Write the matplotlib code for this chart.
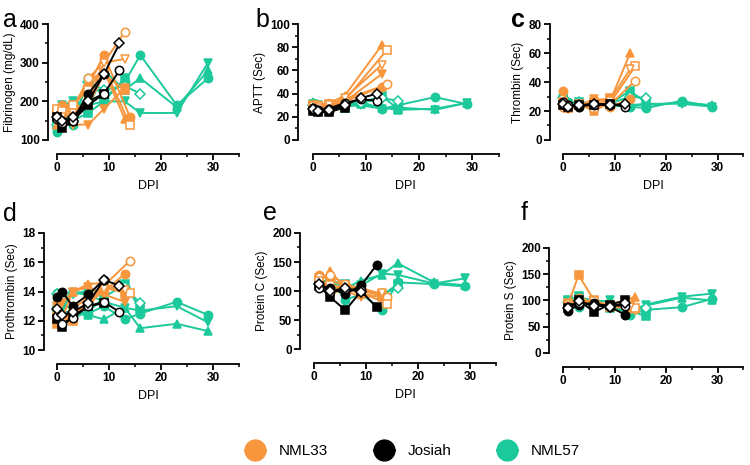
import matplotlib
matplotlib.use('Agg')
import matplotlib.pyplot as plt
from matplotlib.lines import Line2D
from matplotlib.ticker import MultipleLocator

plt.rcParams['font.family'] = ['Liberation Sans', 'DejaVu Sans']

# ---------------- data ----------------
GROUPS = ['NML33', 'Josiah', 'NML57']
COLORS = {'NML33': '#F7963C', 'Josiah': '#000000', 'NML57': '#1CC99B'}

DAYS_NML33 = [0, 1, 3, 6, 9, 13, 14]
DAYS_JOSIAH = [0, 1, 3, 6, 9, 12]
DAYS_NML57 = [0, 1, 3, 6, 9, 13, 16, 23, 29]

N = None
# Fibrinogen (mg/dL)
FIB_NML33 = [[180, 190, 190, 240, 320, N, 160],
             [170, 180, 185, 190, 270, 230, N],
             [140, 150, 180, 250, 280, 155, N],
             [150, 140, 140, 140, 180, 235, N],
             [160, 170, 180, 260, 300, 380, N],
             [180, 175, 190, 230, 290, N, 140],
             [150, 160, 170, 200, 300, 310, N]]
FIB_JOSIAH = [[160, 150, 150, 220, 270, N],
              [160, 130, 150, 190, 220, N],
              [155, 145, 150, 200, 220, 280],
              [160, 150, 160, 200, 270, 350]]
FIB_NML57 = [[120, 150, 140, 260, 210, 250, 320, 190, 260],
             [140, 160, 150, 170, 200, 260, N, N, N],
             [140, 170, 200, 180, 280, 230, 260, 185, 280],
             [150, 190, 200, 190, 200, 200, 170, 170, 300],
             [140, 160, 150, 250, 230, 240, 220, N, N]]

# APTT (Sec)
APTT_NML33 = [[30, 28, 27, 33, N, 46, N],
              [28, 29, 30, 32, N, N, N],
              [31, 30, 32, 38, N, 82, N],
              [27, 27, 28, 33, N, 57, N],
              [28, 30, 31, 35, N, N, 48],
              [30, 29, 31, 34, N, N, 78],
              [29, 28, 30, 36, N, 65, N]]
APTT_JOSIAH = [[26, 25, 25, 30, N, N],
               [25, 24, 24, 28, N, N],
               [28, 26, 27, 32, 35, 34],
               [27, 25, 26, 30, 36, 40]]
APTT_NML57 = [[32, 30, 28, 30, 33, 27, 30, 37, 31],
              [30, 29, 27, 28, 32, 38, 27, N, N],
              [33, 31, 29, 30, 31, 28, 26, 27, 32],
              [31, 30, 28, 29, 30, 27, 28, 26, 32],
              [30, 29, 28, 30, 32, 36, 34, N, N]]

# Thrombin (Sec)
THR_NML33 = [[34, 24, 23, 24, 23, 28, N],
             [26, 22, 24, 26, 29, N, N],
             [25, 23, 25, 20, 26, 60, N],
             [24, 23, 24, 28, 28, N, N],
             [23, 22, 24, 23, 24, N, 41],
             [24, 23, 25, 22, 25, N, 51],
             [25, 22, 23, 25, 27, 49, N]]
THR_JOSIAH = [[25, 24, 23, 25, 24, N],
              [24, 23, 24, 24, 25, N],
              [26, 24, 24, 24, 25, 23],
              [25, 23, 24, 25, 24, 25]]
THR_NML57 = [[30, 26, 25, 24, 24, 23, 22, 27, 23],
             [28, 25, 26, 24, 25, 34, 26, N, N],
             [27, 25, 24, 23, 24, 24, 24, 26, 24],
             [26, 24, 25, 24, 23, 24, 25, 25, 23],
             [29, 25, 26, 24, 25, 30, 29, N, N]]

# Prothrombin (Sec)
PT_NML33 = [[13.2, 12.0, 12.2, 13.5, 14.0, 15.2, N],
            [11.8, 11.9, 12.0, 13.4, 14.3, 13.9, N],
            [13.0, 12.2, 14.0, 14.5, 14.6, N, N],
            [12.0, 13.2, 14.0, 14.3, 13.8, 13.3, N],
            [12.5, 12.2, 12.8, 13.6, 14.4, N, 16.1],
            [12.2, 12.0, 12.4, 13.2, 14.5, N, 13.9],
            [12.3, 12.1, 12.6, 13.0, 14.2, 14.1, N]]
PT_JOSIAH = [[13.6, 14.0, 13.0, 13.8, 14.8, N],
             [12.1, 11.6, 12.3, 13.0, 13.2, N],
             [12.3, 11.8, 12.2, 13.0, 13.3, 12.6],
             [12.8, 12.4, 12.6, 13.2, 14.8, 14.4]]
PT_NML57 = [[13.9, 13.4, 12.6, 12.5, 13.0, 12.1, 12.5, 13.3, 12.4],
            [12.7, 12.0, 12.2, 12.6, 13.6, 14.5, 12.8, N, N],
            [13.3, 12.6, 12.6, 12.4, 12.1, 12.9, 11.5, 11.8, 11.3],
            [13.0, 12.8, 13.9, 13.8, 13.3, 12.9, 12.7, 13.0, 11.9],
            [13.8, 13.5, 13.9, 14.0, 14.2, 14.3, 13.2, N, N]]

# Protein C (Sec)
PC_NML33 = [[N, 128, 120, 108, 100, 93, N],
            [N, 122, 100, 110, 105, 95, N],
            [N, 115, 135, 105, 95, 90, N],
            [N, 103, 112, 100, 90, 92, N],
            [N, 125, 128, 112, 103, N, 90],
            [N, 118, 110, 106, 98, N, 78],
            [N, 108, 95, 104, 100, 96, N]]
PC_JOSIAH = [[N, 110, 105, 95, 110, 145],
             [N, 108, 90, 67, 100, 72],
             [N, 105, 98, 103, 102, N],
             [N, 112, 100, 105, 98, N]]
PC_NML57 = [[N, 115, 120, 85, 95, 68, 115, 112, 108],
            [N, 110, 118, 112, 105, 92, 112, N, N],
            [N, 120, 110, 105, 118, 128, 148, 115, 110],
            [N, 118, 105, 100, 110, 130, 128, 113, 122],
            [N, 112, 115, 108, 100, 95, 105, N, N]]

# Protein S (Sec)
PS_NML33 = [[N, 90, 105, 95, 88, 85, N],
            [N, 95, 148, 100, 90, 90, N],
            [N, 92, 100, 95, 90, N, 107],
            [N, 88, 98, 92, 90, 85, N],
            [N, 92, 102, 96, 92, N, 84],
            [N, 94, 100, 98, 88, N, 86],
            [N, 90, 97, 93, 91, 88, N]]
PS_JOSIAH = [[N, 80, 92, 95, 88, 73],
             [N, 85, 100, 78, 92, 100],
             [N, 88, 95, 92, 90, 90],
             [N, 86, 98, 90, 88, 95]]
PS_NML57 = [[N, 95, 88, 95, 92, 72, 82, 87, 103],
            [N, 100, 108, 95, 85, 80, 70, N, N],
            [N, 98, 105, 100, 98, 80, 90, 105, 100],
            [N, 92, 100, 96, 100, 78, 92, 107, 113],
            [N, 96, 102, 94, 90, 82, 85, N, N]]

YLABELS = ['Fibrinogen (mg/dL)', 'APTT (Sec)', 'Thrombin (Sec)',
           'Prothrombin (Sec)', 'Protein C (Sec)', 'Protein S (Sec)']
PANEL_LETTERS = ['a', 'b', 'c', 'd', 'e', 'f']
X_TICKS = [0, 10, 20, 30]

# ---------------- styles ----------------
MARKERS = {'NML33': [('o', True), ('s', True), ('^', True), ('v', True),
                     ('o', False), ('s', False), ('v', False)],
           'Josiah': [('o', True), ('s', True), ('o', False), ('D', False)],
           'NML57': [('o', True), ('s', True), ('^', True), ('v', True),
                     ('D', False)]}
DAYS = {'NML33': DAYS_NML33, 'Josiah': DAYS_JOSIAH, 'NML57': DAYS_NML57}

panels = [
    dict(data={'NML33': FIB_NML33, 'Josiah': FIB_JOSIAH, 'NML57': FIB_NML57},
         ylim=(100, 400), major=100, minor=50,
         pos=[0.076, 0.699, 0.243, 0.249], loff=6.5, xlabel=True),
    dict(data={'NML33': APTT_NML33, 'Josiah': APTT_JOSIAH, 'NML57': APTT_NML57},
         ylim=(0, 100), major=20, minor=10,
         pos=[0.417, 0.699, 0.248, 0.249], loff=10.5, xlabel=True),
    dict(data={'NML33': THR_NML33, 'Josiah': THR_JOSIAH, 'NML57': THR_NML57},
         ylim=(0, 80), major=20, minor=10,
         pos=[0.751, 0.699, 0.240, 0.249], loff=9.5, xlabel=True),
    dict(data={'NML33': PT_NML33, 'Josiah': PT_JOSIAH, 'NML57': PT_NML57},
         ylim=(10, 18), major=2, minor=1,
         pos=[0.076, 0.247, 0.243, 0.252], loff=9.5, xlabel=True),
    dict(data={'NML33': PC_NML33, 'Josiah': PC_JOSIAH, 'NML57': PC_NML57},
         ylim=(0, 200), major=50, minor=25,
         pos=[0.419, 0.249, 0.243, 0.250], loff=10, xlabel=True),
    dict(data={'NML33': PS_NML33, 'Josiah': PS_JOSIAH, 'NML57': PS_NML57},
         ylim=(0, 200), major=50, minor=25,
         pos=[0.751, 0.241, 0.240, 0.226], loff=10, xlabel=False),
]

fig = plt.figure(figsize=(7.5, 4.65), dpi=100)

draw_order = ['NML57', 'NML33', 'Josiah']
for i, p in enumerate(panels):
    ax = fig.add_axes(p['pos'])
    for g in draw_order:
        color = COLORS[g]
        for (mk, filled), vals in zip(MARKERS[g], p['data'][g]):
            xs = [d for d, v in zip(DAYS[g], vals) if v is not None]
            ys = [v for v in vals if v is not None]
            ax.plot(xs, ys, color=color, lw=1.4, marker=mk,
                    markersize=6 if mk != 'D' else 4.8,
                    markerfacecolor=color if filled else 'white',
                    markeredgecolor=color, markeredgewidth=1.1,
                    clip_on=False, zorder=3)
    ax.set_xlim(0, 35)
    ax.set_ylim(*p['ylim'])
    ax.set_xticks(X_TICKS)
    ax.xaxis.set_minor_locator(MultipleLocator(5))
    ax.yaxis.set_major_locator(MultipleLocator(p['major']))
    ax.yaxis.set_minor_locator(MultipleLocator(p['minor']))
    for s in ['top', 'right']:
        ax.spines[s].set_visible(False)
    ax.spines['left'].set_position(('outward', p['loff']))
    ax.spines['bottom'].set_position(('outward', 10))
    for s in ['left', 'bottom']:
        ax.spines[s].set_linewidth(1.3)
    ax.tick_params(which='major', direction='out', length=4, width=1.3,
                   labelsize=8.5, pad=2)
    ax.tick_params(which='minor', direction='out', length=2.5, width=1.1)
    for lab in ax.get_xticklabels() + ax.get_yticklabels():
        lab.set_fontweight('bold')
    ax.set_ylabel(YLABELS[i], fontsize=8.5, labelpad=3)
    if p['xlabel']:
        ax.set_xlabel('DPI', fontsize=9, labelpad=4)
    ax.patch.set_alpha(0)

# panel letters
letter_pos = [(0.004, 0.942), (0.340, 0.942), (0.682, 0.942),
              (0.004, 0.525), (0.350, 0.527), (0.694, 0.527)]
for L, (x, y) in zip(PANEL_LETTERS, letter_pos):
    fig.text(x, y, L, fontsize=18, fontweight='bold' if L == 'c' else 'normal')

# legend
handles = [Line2D([0], [0], color=COLORS[g], lw=2, marker='o', markersize=15,
                  markerfacecolor=COLORS[g], markeredgecolor=COLORS[g])
           for g in GROUPS]
fig.legend(handles, GROUPS, loc='center', bbox_to_anchor=(0.55, 0.03),
           ncol=3, frameon=False, fontsize=11, handlelength=1.3,
           columnspacing=3.0, handletextpad=0.9)

fig.savefig('out.png', dpi=100)
